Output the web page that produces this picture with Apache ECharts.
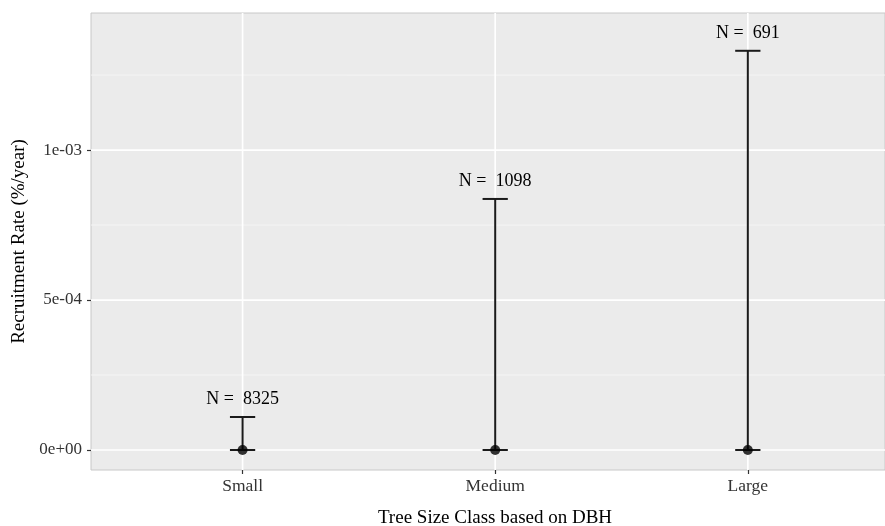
<!DOCTYPE html>
<html>
<head>
<meta charset="utf-8">
<script src="https://cdn.jsdelivr.net/npm/echarts@6/dist/echarts.min.js"></script>
<style>
  html, body { margin: 0; padding: 0; background: #ffffff; }
  #chart { width: 885px; height: 526px; }
</style>
</head>
<body>
<div id="chart"></div>
<script>
// Recruitment rate by tree size class (mean with upper/lower interval)
const categories = ['Small', 'Medium', 'Large'];
const meanRate = [0, 0, 0];
const lowerRate = [0, 0, 0];
const upperRate = [0.110e-3, 0.837e-3, 1.331e-3];
const sampleSizes = [8325, 1098, 691];

// Axis ticks and grid lines
const categoryPositions = [0, 1, 2];
const yTickValues = [0, 5e-4, 1e-3];
const yMinorValues = [2.5e-4, 7.5e-4, 1.25e-3];

const serifFont = '"Liberation Serif", "DejaVu Serif", serif';

function sciLabel(v) {
  if (v === 0) return '0e+00';
  const e = Math.floor(Math.log10(Math.abs(v)) + 1e-9);
  const m = Number((v / Math.pow(10, e)).toFixed(6));
  const sign = e < 0 ? '-' : '+';
  const ae = Math.abs(e);
  return m + 'e' + sign + (ae < 10 ? '0' + ae : ae);
}

// grid line rows: [direction (0 = horizontal, 1 = vertical), value, isMajor]
const H = 0, V = 1;
const gridRows = []
  .concat(yMinorValues.map(v => [H, v, 0]))
  .concat(yTickValues.map(v => [H, v, 1]))
  .concat(categoryPositions.map(v => [V, v, 1]));

const barRows = categories.map((c, i) => [i, meanRate[i], lowerRate[i], upperRate[i], sampleSizes[i]]);
const pointRows = categories.map((c, i) => [i, meanRate[i]]);

const chart = echarts.init(document.getElementById('chart'), null, { renderer: 'canvas' });

chart.setOption({
  animation: false,
  backgroundColor: '#ffffff',
  grid: {
    left: 91, top: 13, right: 0, bottom: 56,
    outerBoundsMode: 'none',
    containLabel: false,
    show: true,
    backgroundColor: '#EBEBEB',
    borderColor: '#c8c8c8',
    borderWidth: 1
  },
  xAxis: {
    type: 'value',
    min: -0.6,
    max: 2.543,
    name: 'Tree Size Class based on DBH',
    nameLocation: 'middle',
    nameGap: 39,
    nameTextStyle: { fontFamily: serifFont, fontSize: 19, color: '#000', padding: [0, 0, 0, 14] },
    axisLine: { show: true, onZero: false, lineStyle: { color: 'rgba(0,0,0,0)' } },
    axisTick: { show: true, customValues: categoryPositions, length: 4, lineStyle: { color: '#333', width: 1.2 } },
    axisLabel: {
      customValues: categoryPositions,
      formatter: v => categories[Math.round(v)],
      fontFamily: serifFont, fontSize: 17.5, color: '#333', margin: 7
    },
    splitLine: { show: false }
  },
  yAxis: {
    type: 'value',
    min: -0.0667e-3,
    max: 1.457e-3,
    name: 'Recruitment Rate (%/year)',
    nameLocation: 'middle',
    nameRotate: 90,
    nameGap: 59,
    nameTextStyle: { fontFamily: serifFont, fontSize: 19, color: '#000' },
    axisLine: { show: true, onZero: false, lineStyle: { color: 'rgba(0,0,0,0)' } },
    axisTick: { show: true, customValues: yTickValues, length: 4, lineStyle: { color: '#333', width: 1.2 } },
    axisLabel: {
      customValues: yTickValues,
      formatter: v => sciLabel(v),
      fontFamily: serifFont, fontSize: 17, color: '#333', margin: 9
    },
    splitLine: { show: false }
  },
  series: [
    {
      // panel grid lines
      type: 'custom',
      z: 1,
      silent: true,
      data: gridRows,
      renderItem: function (params, api) {
        const cs = params.coordSys;
        const dir = api.value(0);
        const v = api.value(1);
        const major = api.value(2) === 1;
        const style = { stroke: major ? '#ffffff' : '#f6f6f6', lineWidth: major ? 1.7 : 0.9 };
        if (dir === H) {
          const y = api.coord([0, v])[1];
          return { type: 'line', shape: { x1: cs.x, y1: y, x2: cs.x + cs.width, y2: y }, style: style };
        }
        const x = api.coord([v, 0])[0];
        return { type: 'line', shape: { x1: x, y1: cs.y, x2: x, y2: cs.y + cs.height }, style: style };
      }
    },
    {
      // error bars with sample size labels
      type: 'custom',
      z: 3,
      silent: true,
      data: barRows,
      renderItem: function (params, api) {
        const x = api.value(0);
        const lo = api.coord([x, api.value(2)]);
        const hi = api.coord([x, api.value(3)]);
        const capL = api.coord([x - 0.05, api.value(3)])[0];
        const capR = api.coord([x + 0.05, api.value(3)])[0];
        const stroke = { stroke: '#1a1a1a', lineWidth: 2 };
        return {
          type: 'group',
          children: [
            { type: 'line', shape: { x1: hi[0], y1: hi[1], x2: lo[0], y2: lo[1] }, style: stroke },
            { type: 'line', shape: { x1: capL, y1: hi[1], x2: capR, y2: hi[1] }, style: stroke },
            { type: 'line', shape: { x1: capL, y1: lo[1], x2: capR, y2: lo[1] }, style: stroke },
            {
              type: 'text',
              style: {
                x: hi[0], y: hi[1] - 18,
                text: 'N =  ' + api.value(4),
                align: 'center', verticalAlign: 'middle',
                font: '18px ' + serifFont,
                fill: '#000'
              }
            }
          ]
        };
      }
    },
    {
      // mean points
      type: 'scatter',
      z: 4,
      silent: true,
      symbol: 'circle',
      symbolSize: 10,
      itemStyle: { color: '#000' },
      data: pointRows
    }
  ]
});
</script>
</body>
</html>
